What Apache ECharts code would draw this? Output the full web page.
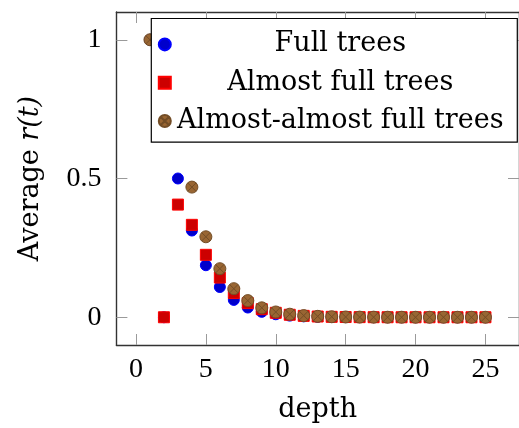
<!DOCTYPE html>
<html>
<head>
<meta charset="utf-8">
<script src="https://cdn.jsdelivr.net/npm/echarts@6/dist/echarts.min.js"></script>
<style>html,body{margin:0;padding:0;background:#fff;}#c{width:519px;height:428px;}</style>
</head>
<body>
<div id="c"></div>
<script>
// ---- data ----
var seriesNames = ['Full trees', 'Almost full trees', 'Almost-almost full trees'];
var fullDepth = [1, 2, 3, 4, 5, 6, 7, 8, 9, 10, 11, 12, 13, 14, 15, 16, 17, 18, 19, 20, 21, 22, 23, 24, 25];
var fullR = [1, 0, 0.5, 0.3125, 0.1875, 0.109, 0.0625, 0.035, 0.0195, 0.0107, 0.0059, 0.0032, 0.0017, 0.0009, 0.0005, 0.0003, 0.0001, 0.0001, 0, 0, 0, 0, 0, 0, 0];
var almostDepth = [2, 3, 4, 5, 6, 7, 8, 9, 10, 11, 12, 13, 14, 15, 16, 17, 18, 19, 20, 21, 22, 23, 24, 25];
var almostR = [0, 0.406, 0.333, 0.225, 0.143, 0.087, 0.051, 0.029, 0.016, 0.009, 0.005, 0.0027, 0.0015, 0.0008, 0.0004, 0.0002, 0.0001, 0, 0, 0, 0, 0, 0, 0];
var almost2Depth = [1, 4, 5, 6, 7, 8, 9, 10, 11, 12, 13, 14, 15, 16, 17, 18, 19, 20, 21, 22, 23, 24, 25];
var almost2R = [1, 0.469, 0.29, 0.175, 0.103, 0.06, 0.034, 0.019, 0.011, 0.006, 0.0033, 0.0018, 0.001, 0.0005, 0.0003, 0.0001, 0.0001, 0, 0, 0, 0, 0, 0];
var xTicks = [0, 5, 10, 15, 20, 25];
var yTicks = [0, 0.5, 1];
var xName = 'depth';
var yNamePlain = 'Average ';
var yNameMath = 'r(t)';

function pairs(xs, ys) { return xs.map(function (x, i) { return [x, ys[i]]; }); }

var chart = echarts.init(document.getElementById('c'), null, { renderer: 'canvas' });
var serifWord = '"DejaVu Serif", serif';
var serifNum = '"Liberation Serif", "DejaVu Serif", serif';
var tickStyle = { show: true, inside: true, length: 11, lineStyle: { color: '#9a9a9a', width: 1 } };
var lineStyleAxis = { show: true, onZero: false, lineStyle: { color: '#333', width: 1.4 } };
var otimes = 'path://M0,10 A10,10 0 1,1 20,10 A10,10 0 1,1 0,10 Z M2.93,2.93 L17.07,17.07 M17.07,2.93 L2.93,17.07';

var option = {
  animation: false,
  backgroundColor: '#fff',
  grid: { left: 116.4, top: 12, width: 409, height: 336.5, containLabel: false },
  xAxis: [{
    type: 'value', min: -1.4, max: 27.4, position: 'bottom',
    name: xName, nameLocation: 'middle', nameGap: 51,
    nameTextStyle: { fontFamily: serifWord, fontSize: 27, color: '#000' },
    axisLine: lineStyleAxis,
    axisTick: Object.assign({ customValues: xTicks }, tickStyle),
    axisLabel: { customValues: xTicks, margin: 11, fontFamily: serifNum, fontSize: 28, color: '#000' },
    splitLine: { show: false }
  }, {
    type: 'value', min: -1.4, max: 27.4, position: 'top',
    axisLine: lineStyleAxis,
    axisTick: Object.assign({ customValues: xTicks }, tickStyle),
    axisLabel: { show: false }, splitLine: { show: false }
  }],
  yAxis: [{
    type: 'value', min: -0.1, max: 1.1, position: 'left',
    name: '{n|' + yNamePlain + '}{m|' + yNameMath + '}', nameLocation: 'middle', nameGap: 72, nameRotate: 90,
    nameTextStyle: { fontFamily: serifWord, fontSize: 27, color: '#000',
      rich: { n: { fontFamily: serifWord, fontSize: 27, color: '#000' },
              m: { fontFamily: serifWord, fontSize: 27, fontStyle: 'italic', color: '#000' } } },
    axisLine: lineStyleAxis,
    axisTick: Object.assign({ customValues: yTicks }, tickStyle),
    axisLabel: { customValues: yTicks, margin: 15, fontFamily: serifNum, fontSize: 28, color: '#000',
      formatter: function (v) { return String(v); } },
    splitLine: { show: false }
  }, {
    type: 'value', min: -0.1, max: 1.1, position: 'right',
    axisLine: lineStyleAxis,
    axisTick: Object.assign({ customValues: yTicks }, tickStyle),
    axisLabel: { show: false }, splitLine: { show: false }
  }],
  legend: {
    left: 151.3, top: 18.5, orient: 'vertical',
    padding: [12.4, 12.5, 7.6, 6.5],
    itemGap: 11.3, itemWidth: 12, itemHeight: 12,
    backgroundColor: '#fff', borderColor: '#000', borderWidth: 1.2, borderRadius: 0,
    data: seriesNames,
    formatter: function (n) { return '{c|' + n + '}'; },
    textStyle: { fontFamily: serifWord, fontSize: 27, color: '#000',
      rich: { c: { width: 329, align: 'center', fontFamily: serifWord, fontSize: 27, lineHeight: 30, color: '#000' } } }
  },
  series: [{
    name: seriesNames[0], type: 'scatter', data: pairs(fullDepth, fullR),
    symbol: 'circle', symbolSize: 11,
    itemStyle: { color: '#0000cc', borderColor: '#0000ff', borderWidth: 1, opacity: 1 }
  }, {
    name: seriesNames[1], type: 'scatter', data: pairs(almostDepth, almostR),
    symbol: 'rect', symbolSize: 11,
    itemStyle: { color: '#cc0000', borderColor: '#ff0000', borderWidth: 1, opacity: 1 }
  }, {
    name: seriesNames[2], type: 'scatter', data: pairs(almost2Depth, almost2R),
    symbol: otimes, symbolSize: 12,
    itemStyle: { color: '#996633', borderColor: '#734d26', borderWidth: 1, opacity: 1 }
  }]
};
chart.setOption(option);
</script>
</body>
</html>
